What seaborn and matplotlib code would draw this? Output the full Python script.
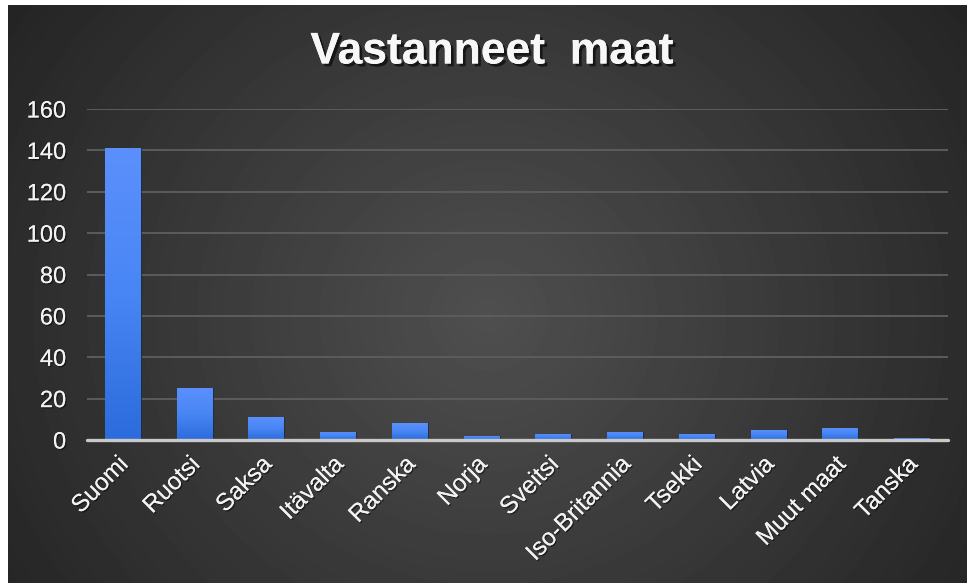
import numpy as np
import pandas as pd
import matplotlib
matplotlib.use("Agg")
import matplotlib.pyplot as plt
import seaborn as sns
from matplotlib import patheffects as pe
from matplotlib import transforms as mtransforms
from matplotlib.colors import LinearSegmentedColormap

# Respondents per country
countries = ["Suomi", "Ruotsi", "Saksa", "Itävalta", "Ranska", "Norja",
             "Sveitsi", "Iso-Britannia", "Tsekki", "Latvia", "Muut maat", "Tanska"]
respondents = [141, 25, 11, 4, 8, 2, 3, 4, 3, 5, 6, 1]
y_ticks = [0, 20, 40, 60, 80, 100, 120, 140, 160]
title = "Vastanneet  maat"

df = pd.DataFrame({"maa": countries, "vastaajat": respondents})

sns.set_theme(style="dark")
plt.rcParams["font.family"] = ["Liberation Sans", "DejaVu Sans"]

W, H = 967, 583
fig = plt.figure(figsize=(W / 100, H / 100), dpi=100, facecolor="white")

# Dark radial-gradient backdrop
bg = fig.add_axes([8 / W, 0, (W - 8) / W, (H - 5) / H])
bg.axis("off")
bh, bw = H - 5, W - 8
yy, xx = np.mgrid[0:bh, 0:bw]
cx, cy = 480, 310
d = np.sqrt(((xx - cx) / (0.62 * bw)) ** 2 + ((yy - cy) / (0.95 * bh)) ** 2)
d = np.clip(d, 0, 1)
light, dark = 0.31, 0.14
val = light - (light - dark) * d
bg.imshow(val, cmap="gray", vmin=0, vmax=1, extent=[0, 1, 0, 1],
          aspect="auto", origin="upper", interpolation="bilinear")
bg.set_xlim(0, 1)
bg.set_ylim(0, 1)

# Plot area
ax = fig.add_axes([87 / W, (H - 440) / H, (948 - 87) / W, (440 - 109) / H])
ax.patch.set_alpha(0)

sns.barplot(data=df, x="maa", y="vastaajat", ax=ax, color="#4a88f5",
            width=0.5, saturation=1, zorder=3)

# Vertical blue gradient inside each bar
bar_cmap = LinearSegmentedColormap.from_list("bar", ["#2c6bdb", "#4886f5", "#5b90fc"])
grad = np.linspace(0, 1, 256).reshape(-1, 1)
for p in list(ax.patches):
    x0, y0 = p.get_x(), p.get_y()
    w, h = p.get_width(), p.get_height()
    im = ax.imshow(grad, cmap=bar_cmap, extent=[x0, x0 + w, y0, y0 + h],
                   origin="lower", aspect="auto", zorder=3.5, interpolation="bilinear")
    im.set_clip_path(p)
    p.set_facecolor("none")
    p.set_edgecolor("#1e2a44")
    p.set_linewidth(0.6)

ax.set_xlim(-0.5, len(countries) - 0.5)
ax.set_ylim(0, 160)
ax.set_yticks(y_ticks)
ax.set_aspect("auto")

ax.yaxis.grid(True, color="#5c5c5c", lw=1.4)
ax.xaxis.grid(False)
ax.set_axisbelow(True)
for s in ax.spines.values():
    s.set_visible(False)
ax.axhline(0, color="#c9c9c9", lw=2.4, zorder=5, clip_on=False)

ax.set_xlabel("")
ax.set_ylabel("")

text_shadow = [pe.withSimplePatchShadow(offset=(1, -1), shadow_rgbFace="black", alpha=0.45),
               pe.Normal()]
ax.tick_params(axis="y", length=0, pad=15, labelsize=17, labelcolor="#f2f2f2")
ax.tick_params(axis="x", length=0, pad=6, labelsize=17.5, labelcolor="#f2f2f2")
for lab in ax.get_yticklabels():
    lab.set_path_effects(text_shadow)
shift = mtransforms.ScaledTranslation(2 / 100, -13 / 100, fig.dpi_scale_trans)
for lab in ax.get_xticklabels():
    lab.set_rotation(45)
    lab.set_ha("right")
    lab.set_va("center")
    lab.set_rotation_mode("anchor")
    lab.set_transform(lab.get_transform() + shift)
    lab.set_path_effects(text_shadow)

fig.text(492 / W, 1 - 52 / H, title, ha="center", va="center", fontsize=32,
         fontweight="bold", color="#f7f7f7",
         path_effects=[pe.withSimplePatchShadow(offset=(2, -2), shadow_rgbFace="black", alpha=0.6),
                       pe.Normal()])

fig.savefig("out.png", dpi=100, facecolor="white")
